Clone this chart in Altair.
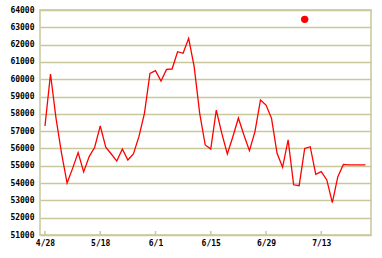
import altair as alt
import pandas as pd

# Series values (one per trading day index)
values = [57300, 60300, 57740, 55720, 54000, 54850, 55760, 54640, 55530, 56070,
          57310, 56070, 55680, 55270, 55970, 55330, 55680, 56680, 58030, 60340,
          60500, 59900, 60570, 60590, 61590, 61500, 62360, 60730, 58030, 56200,
          55970, 58220, 56870, 55680, 56680, 57760, 56780, 55870, 56970, 58800,
          58510, 57740, 55720, 54910, 56500, 53900, 53850, 56000, 56100, 54510,
          54660, 54180, 52870, 54370, 55080, 55050, 55050, 55050, 55050]
indices = list(range(len(values)))

# Single highlighted point
dot_index = [47]
dot_value = [63460]

# Tick labels
tick_positions = [0, 10, 20, 30, 40, 50]
tick_labels = ["4/28", "5/18", "6/1", "6/15", "6/29", "7/13"]
y_ticks = list(range(51000, 64001, 1000))

line_df = pd.DataFrame({"i": indices, "v": values})
dot_df = pd.DataFrame({"i": dot_index, "v": dot_value})
tick_df = pd.DataFrame({"i": tick_positions})

GRID = "#c8c89c"
FONT = "DejaVu Sans Mono"

label_expr = "[" + ",".join("'%s'" % t for t in tick_labels) + "][round(datum.value/10)]"

x_scale = alt.Scale(domain=[-0.9, 59], nice=False, zero=False)
y_scale = alt.Scale(domain=[51000, 64000], nice=False, zero=False)

x_axis = alt.Axis(values=tick_positions, tickCount=len(tick_positions) + 2,
                  labelExpr=label_expr, grid=False, ticks=False,
                  domain=False, labelFont=FONT, labelFontSize=8, labelFontWeight="bold",
                  labelColor="black", labelPadding=4, labelOverlap=False, title=None)
y_axis = alt.Axis(values=y_ticks, tickCount=len(y_ticks) + 2, format="d", grid=True,
                  gridColor=GRID, gridWidth=1.5, gridOpacity=1, ticks=False, domain=False,
                  labelFont=FONT, labelFontSize=8, labelFontWeight="bold",
                  labelColor="black", labelPadding=6, labelOverlap=False,
                  labelBound=False, title=None)

line = alt.Chart(line_df).mark_line(color="#ff0000", strokeWidth=1.3).encode(
    x=alt.X("i:Q", scale=x_scale, axis=x_axis),
    y=alt.Y("v:Q", scale=y_scale, axis=y_axis),
)

ticks = alt.Chart(tick_df).mark_rule(color=GRID, strokeWidth=1.5).encode(
    x=alt.X("i:Q", scale=x_scale),
    y=alt.value(221),
    y2=alt.value(225),
)

dot = alt.Chart(dot_df).mark_circle(color="#ff0000", opacity=1, size=55).encode(
    x=alt.X("i:Q", scale=x_scale),
    y=alt.Y("v:Q", scale=y_scale),
)

chart = alt.layer(ticks, line, dot).properties(
    width=331, height=225,
    padding={"left": 40, "top": 10, "right": 11, "bottom": 23},
    autosize=alt.AutoSizeParams(type="none"),
    background="white",
).configure_view(stroke=GRID, strokeWidth=1.5)

chart.save("out.html", embed_options={"renderer": "svg", "actions": False})
